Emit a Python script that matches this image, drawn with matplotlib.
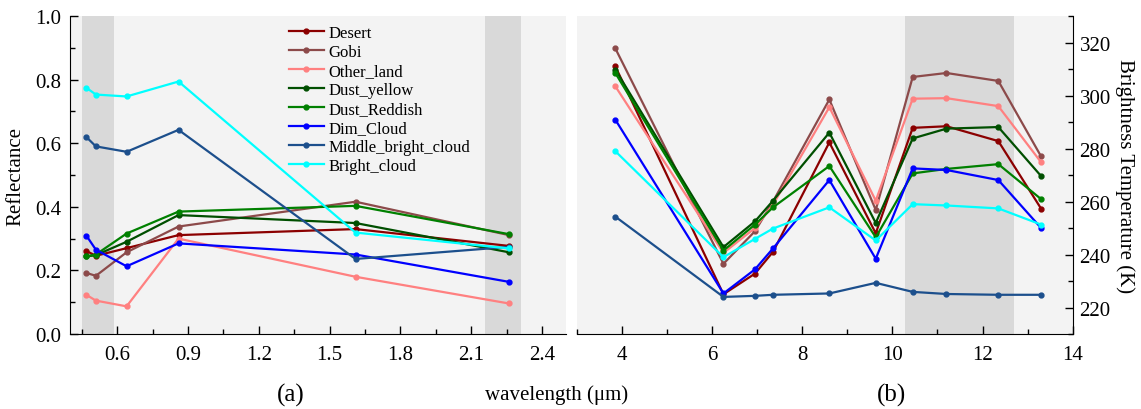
import matplotlib
matplotlib.use("Agg")
import matplotlib.pyplot as plt
from matplotlib.ticker import MultipleLocator
import numpy as np

plt.rcParams["font.family"] = ["Liberation Serif", "DejaVu Serif"]

# visible / near-IR bands (reflectance)
vis_wl = [0.47, 0.51, 0.64, 0.86, 1.61, 2.26]
# infrared bands (brightness temperature)
ir_wl = [3.85, 6.25, 6.95, 7.35, 8.6, 9.63, 10.45, 11.2, 12.35, 13.3]

names = ["Desert", "Gobi", "Other_land", "Dust_yellow", "Dust_Reddish",
         "Dim_Cloud", "Middle_bright_cloud", "Bright_cloud"]
colors = ["#8b0000", "#8c4a4a", "#ff8080", "#004f00", "#008000",
          "#0000ff", "#1c4f8c", "#00ffff"]

refl_desert = [0.261, 0.246, 0.270, 0.311, 0.330, 0.277]
refl_gobi = [0.192, 0.183, 0.257, 0.338, 0.416, 0.311]
refl_other = [0.123, 0.105, 0.087, 0.300, 0.180, 0.096]
refl_dust_y = [0.244, 0.248, 0.290, 0.374, 0.349, 0.257]
refl_dust_r = [0.244, 0.250, 0.316, 0.385, 0.403, 0.314]
refl_dim = [0.309, 0.265, 0.213, 0.285, 0.250, 0.164]
refl_middle = [0.619, 0.590, 0.573, 0.642, 0.236, 0.274]
refl_bright = [0.774, 0.753, 0.747, 0.794, 0.319, 0.269]

bt_desert = [311.0, 225.0, 232.8, 241.0, 282.3, 248.0, 287.8, 288.4, 282.8, 257.3]
bt_gobi = [317.8, 236.5, 248.8, 260.0, 298.5, 256.8, 307.0, 308.5, 305.5, 277.0]
bt_other = [303.5, 240.6, 250.0, 258.8, 295.6, 260.3, 298.8, 299.0, 296.0, 274.8]
bt_dust_y = [309.8, 242.8, 252.5, 260.3, 286.0, 251.9, 283.8, 287.5, 288.1, 269.6]
bt_dust_r = [308.5, 241.5, 251.3, 257.8, 273.4, 246.5, 270.6, 272.3, 274.1, 260.9]
bt_dim = [290.9, 225.3, 234.4, 242.3, 268.1, 238.4, 272.5, 271.9, 268.1, 250.0]
bt_middle = [254.3, 224.0, 224.4, 224.8, 225.3, 229.3, 225.9, 225.1, 224.8, 224.8]
bt_bright = [279.0, 239.0, 245.9, 249.8, 257.8, 245.3, 259.0, 258.5, 257.4, 251.3]

refl = [refl_desert, refl_gobi, refl_other, refl_dust_y, refl_dust_r,
        refl_dim, refl_middle, refl_bright]
bt = [bt_desert, bt_gobi, bt_other, bt_dust_y, bt_dust_r,
      bt_dim, bt_middle, bt_bright]

# shaded band ranges
vis_shade = [(0.45, 0.585), (2.16, 2.31)]
ir_shade = [(10.28, 12.7)]

fig = plt.figure(figsize=(11.41, 4.10), dpi=100)
ax1 = fig.add_axes([0.0613, 0.1829, 0.4344, 0.7756])
ax2 = fig.add_axes([0.5057, 0.1829, 0.4344, 0.7756])

for ax in (ax1, ax2):
    ax.set_facecolor("#f3f3f3")
    ax.spines["top"].set_visible(False)
    ax.tick_params(which="both", direction="in", labelsize=15, width=1)
    ax.tick_params(which="major", length=6)
    ax.tick_params(which="minor", length=3.5)

for a, b in vis_shade:
    ax1.axvspan(a, b, color="#d9d9d9", lw=0, zorder=0)
for a, b in ir_shade:
    ax2.axvspan(a, b, color="#d9d9d9", lw=0, zorder=0)

for name, c, r, t in zip(names, colors, refl, bt):
    ax1.plot(vis_wl, r, "-o", color=c, lw=1.6, ms=3.5, label=name)
    ax2.plot(ir_wl, t, "-o", color=c, lw=1.6, ms=3.5)

ax1.set_xlim(0.4, 2.5)
ax1.set_ylim(0, 1.0)
ax1.xaxis.set_major_locator(MultipleLocator(0.3))
ax1.xaxis.set_minor_locator(MultipleLocator(0.15))
ax1.yaxis.set_major_locator(MultipleLocator(0.2))
ax1.yaxis.set_minor_locator(MultipleLocator(0.1))
ax1.set_xticks([0.6, 0.9, 1.2, 1.5, 1.8, 2.1, 2.4])
ax1.xaxis.set_major_formatter(matplotlib.ticker.FormatStrFormatter("%.1f"))
ax1.yaxis.set_major_formatter(matplotlib.ticker.FormatStrFormatter("%.1f"))
ax1.spines["right"].set_visible(False)
ax1.tick_params(axis="x", pad=8)
ax1.tick_params(axis="y", pad=6)
ax1.set_ylabel("Reflectance", fontsize=15, labelpad=7)

ax2.set_xlim(3, 14)
ax2.set_ylim(210, 330)
ax2.xaxis.set_major_locator(MultipleLocator(2))
ax2.xaxis.set_minor_locator(MultipleLocator(1))
ax2.yaxis.set_major_locator(MultipleLocator(20))
ax2.yaxis.set_minor_locator(MultipleLocator(10))
ax2.set_yticks([220, 240, 260, 280, 300, 320])
ax2.spines["left"].set_visible(False)
ax2.yaxis.tick_right()
ax2.yaxis.set_label_position("right")
ax2.tick_params(axis="x", pad=8)
ax2.tick_params(axis="y", pad=5)
ax2.set_ylabel("Brightness Temperature (K)", fontsize=15, rotation=270,
               labelpad=17)

ax1.legend(loc="upper left", bbox_to_anchor=(0.253, 0.937),
           bbox_transform=fig.transFigure, frameon=False, fontsize=12,
           handlelength=2.1, handletextpad=0.3, labelspacing=0.18,
           borderpad=0, borderaxespad=0, numpoints=1)

fig.text(291 / 1141, 1 - 395 / 410, "(a)", fontsize=18, ha="center", va="center")
fig.text(557 / 1141, 1 - 395 / 410, "wavelength (\u03bcm)", fontsize=15,
         ha="center", va="center")
fig.text(891 / 1141, 1 - 395 / 410, "(b)", fontsize=18, ha="center", va="center")

fig.savefig("out.png", dpi=100)
